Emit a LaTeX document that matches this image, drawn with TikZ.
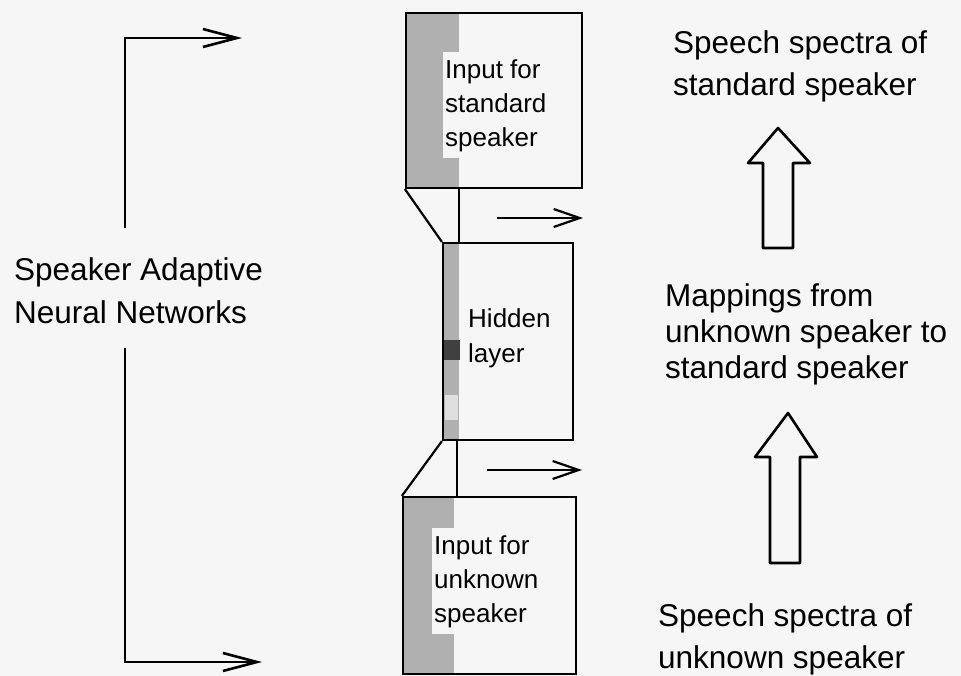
\documentclass[tikz,border=0pt]{standalone}
\usepackage{fontspec}
\setmainfont{Liberation Sans}
\usetikzlibrary{arrows.meta,backgrounds}
\definecolor{paper}{RGB}{246,246,246}

\tikzset{
  box/.style={draw,line width=2.2pt,inner sep=0pt},
  unit/.style={fill=gray!62},
  lbl/.style={font=\fontsize{31.5}{42}\selectfont,align=left,inner sep=0pt,anchor=north west},
  boxlbl/.style={font=\fontsize{26}{34}\selectfont,align=left,inner xsep=2pt,inner ysep=7pt,anchor=north west,fill=paper},
  flow/.style={line width=2.2pt,->},
  brace/.style={line width=2.6pt,-{Straight Barb[length=34pt,width=18pt]}},
  fat/.style={draw,line width=2.6pt,fill=paper,line join=round}
}

\begin{document}
\begin{tikzpicture}[x=1pt,y=-1pt,>={Straight Barb[length=26pt,width=18pt]}]
\useasboundingbox (0,0) rectangle (961,676);
% layers of the net
\node[box,minimum width=176pt,minimum height=175pt] (inS) at (494,100.5) {};
\node[box,minimum width=130pt,minimum height=197pt] (hid) at (508,341.5) {};
\node[box,minimum width=173pt,minimum height=177pt] (inU) at (489.5,585.5) {};
\begin{scope}[on background layer]
\fill[paper] (0,0) rectangle (961,676);
\fill[unit] (inS.north west) rectangle ([xshift=54pt]inS.south west);
\fill[unit] (hid.north west) rectangle ([xshift=17pt]hid.south west);
\fill[unit] (inU.north west) rectangle ([xshift=52pt]inU.south west);
\fill[black!75] (443,340) rectangle (460,360);
\fill[gray!25] (445,395) rectangle (458,420);
\end{scope}
\node[boxlbl] (tS) at (443,52) {Input for\\standard\\speaker};
\node[boxlbl] (tU) at (432,528) {Input for\\unknown\\speaker};
\node[lbl,font=\fontsize{26}{35}\selectfont] (tH) at (468,308) {Hidden\\layer};
% links between layers
\draw[line width=2.2pt] (inS.south west) -- (hid.north west);
\draw[line width=2.2pt] ([xshift=54pt]inS.south west) -- ([xshift=17pt]hid.north west);
\draw[line width=2.2pt] (hid.south west) -- (inU.north west);
\draw[line width=2.2pt] ([xshift=15pt]hid.south west) -- ([xshift=15pt]hid.south west |- inU.north);
\coordinate (f1a) at (497,218); \coordinate (f1b) at (583,218);
\coordinate (f2a) at (487,470); \coordinate (f2b) at (582,470);
\draw[flow] (f1a) -- (f1b);
\draw[flow] (f2a) -- (f2b);
% left bracket
\node[lbl,font=\fontsize{31.5}{43}\selectfont] (san) at (14,257) {Speaker Adaptive\\Neural Networks};
\coordinate (brT) at (125,38); \coordinate (brTa) at (125,228); \coordinate (brTe) at (242,38);
\coordinate (brB) at (125,662); \coordinate (brBa) at (125,348); \coordinate (brBe) at (262,662);
\draw[brace] (brTa) -- (brT) -- (brTe);
\draw[brace] (brBa) -- (brB) -- (brBe);
% right column
\node[lbl] (spS) at (673,30) {Speech spectra of\\standard speaker};
\node[lbl,font=\fontsize{31.5}{36}\selectfont] (map) at (665,283) {Mappings from\\unknown speaker to\\standard speaker};
\node[lbl] (spU) at (658,603) {Speech spectra of\\unknown speaker};
\draw[fat] (763,248) -- (763,163) -- (748,163) -- (778,128) -- (810,163) -- (793,163) -- (793,248) -- cycle;
\draw[fat] (770,563) -- (770,457) -- (755,457) -- (788,413) -- (817,457) -- (800,457) -- (800,563) -- cycle;
\end{tikzpicture}
\end{document}
